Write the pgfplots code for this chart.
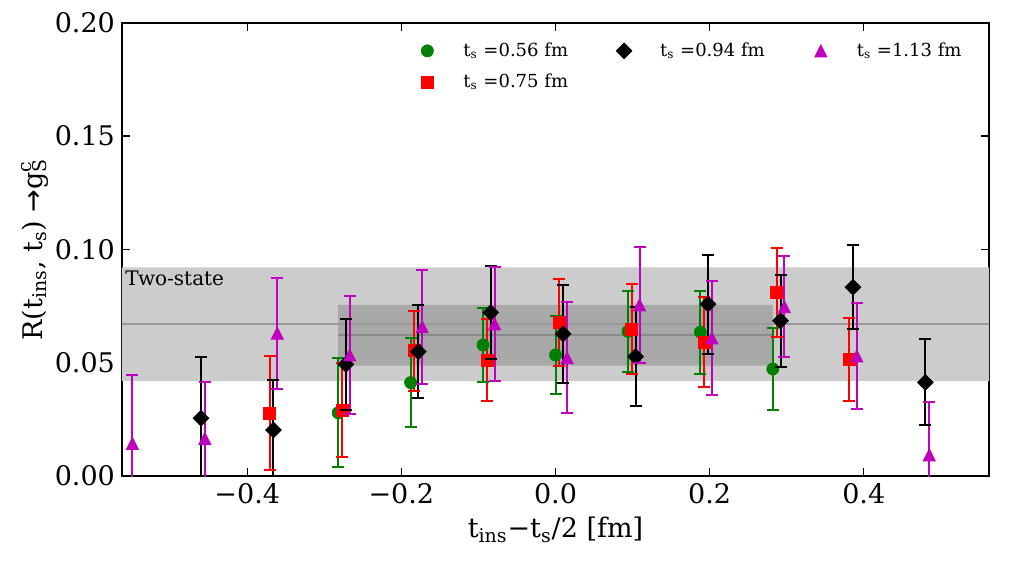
\documentclass[border=0pt]{standalone}
\usepackage{pgfplots}
\pgfplotsset{compat=1.18}
\usetikzlibrary{plotmarks}
\usepackage{fontspec}
\setmainfont{DejaVu Serif}
\newfontfamily\dvs{DejaVu Sans}
\definecolor{ggreen}{RGB}{0,128,0}
\definecolor{mmag}{RGB}{191,0,191}
\definecolor{bandlight}{RGB}{204,204,204}
\definecolor{banddark}{RGB}{168,168,168}
\definecolor{linelight}{RGB}{153,153,153}
\definecolor{linedark}{RGB}{138,138,138}
\pgfdeclareplotmark{mpldiamond}{%
  \pgfpathmoveto{\pgfqpoint{0pt}{\pgfplotmarksize}}%
  \pgfpathlineto{\pgfqpoint{\pgfplotmarksize}{0pt}}%
  \pgfpathlineto{\pgfqpoint{0pt}{-\pgfplotmarksize}}%
  \pgfpathlineto{\pgfqpoint{-\pgfplotmarksize}{0pt}}%
  \pgfpathclose\pgfusepathqfillstroke}
\pgfdeclareplotmark{mpltri}{%
  \pgfpathmoveto{\pgfqpoint{0pt}{\pgfplotmarksize}}%
  \pgfpathlineto{\pgfqpoint{\pgfplotmarksize}{-\pgfplotmarksize}}%
  \pgfpathlineto{\pgfqpoint{-\pgfplotmarksize}{-\pgfplotmarksize}}%
  \pgfpathclose\pgfusepathqfillstroke}
\pgfdeclareplotmark{capbar}{%
  \pgfpathmoveto{\pgfqpoint{-\pgfplotmarksize}{0pt}}%
  \pgfpathlineto{\pgfqpoint{\pgfplotmarksize}{0pt}}%
  \pgfusepathqstroke}
\begin{document}
\begin{tikzpicture}
\useasboundingbox (-61pt,-49pt) rectangle (449pt,238pt);
\begin{axis}[
  scale only axis, width=433.5pt, height=226.65pt,
  xmin=-0.5625, xmax=0.5625, ymin=0, ymax=0.2,
  xtick={-0.4,-0.2,0,0.2,0.4}, xticklabels={−0.4,−0.2,0.0,0.2,0.4},
  ytick={0,0.05,0.1,0.15,0.2}, yticklabels={0.00,0.05,0.10,0.15,0.20},
  tick align=inside, major tick length=4pt, minor tick num=0,
  tick style={black, line width=0.6pt},
  axis line style={line width=1pt},
  ticklabel style={font=\fontsize{13.5}{16}\selectfont},
  label style={font=\fontsize{13.5}{16}\selectfont},
  xlabel={t\textsubscript{ins}−t\textsubscript{s}/2 [fm]},
  ylabel={R(t\textsubscript{ins}, t\textsubscript{s}) {\dvs →}g\rlap{\textsuperscript{c}}\textsubscript{S}},
  ylabel shift=-3.5pt,
  mylegend/.style={legend image code/.code={\path[draw=none,fill=none] (-7pt,-5pt) rectangle (7pt,5pt); \draw[##1] plot coordinates {(0pt,0pt)};}},
  errbar/.style={line width=1pt, forget plot, unbounded coords=jump, mark=capbar, mark size=3pt, mark options={line width=1pt}},
  legend cell align=left,
  legend style={draw=none, fill=none, at={(0.3356,0.9616)}, anchor=north west, inner sep=0pt,
    legend columns=3, font=\fontsize{9}{11}\selectfont, row sep=5.5pt,
    nodes={inner xsep=0pt, inner ysep=1pt},
    /tikz/every odd column/.append style={column sep=11pt},
    /tikz/every even column/.append style={column sep=21pt}},
]
% two-state band (full width) and its central value
\addplot[fill=bandlight, draw=none, forget plot] coordinates {(-0.6,0.0419) (0.6,0.0419) (0.6,0.0921) (-0.6,0.0921) (-0.6,0.0419)};
\addplot[fill=banddark, draw=none, forget plot] coordinates {(-0.282,0.0487) (0.282,0.0487) (0.282,0.0755) (-0.282,0.0755) (-0.282,0.0487)};
\addplot[linelight, line width=1pt, forget plot] coordinates {(-0.6,0.0669) (0.6,0.0669)};
\addplot[linedark, line width=1pt, forget plot] coordinates {(-0.282,0.0622) (0.282,0.0622)};
\node[anchor=north west, inner sep=1.5pt, font=\fontsize{10}{12}\selectfont] at (axis cs:-0.5625,0.0921) {Two-state};
% ---------- t_s = 0.56 fm : error bars (low, high) then central values
\addplot[ggreen, errbar] coordinates {
(-0.282,0.0039) (-0.282,0.0519) (nan,nan)
(-0.188,0.0217) (-0.188,0.0607) (nan,nan)
(-0.094,0.0414) (-0.094,0.0742) (nan,nan)
(0.000,0.0364) (0.000,0.0704) (nan,nan)
(0.094,0.0458) (0.094,0.0818) (nan,nan)
(0.188,0.0452) (0.188,0.0818) (nan,nan)
(0.282,0.0292) (0.282,0.0652)
};
\addplot[only marks, ggreen, mark=*, mark size=3.0pt, forget plot] coordinates {
(-0.282,0.0279) (-0.188,0.0412) (-0.094,0.0578) (0.000,0.0534)
(0.094,0.0638) (0.188,0.0635) (0.282,0.0472)
};
% ---------- t_s = 0.75 fm
\addplot[red, errbar] coordinates {
(-0.371,0.0026) (-0.371,0.0528) (nan,nan)
(-0.277,0.0084) (-0.277,0.0498) (nan,nan)
(-0.183,0.0375) (-0.183,0.0729) (nan,nan)
(-0.089,0.0332) (-0.089,0.0692) (nan,nan)
(0.005,0.0487) (0.005,0.0867) (nan,nan)
(0.099,0.0449) (0.099,0.0845) (nan,nan)
(0.193,0.0393) (0.193,0.0789) (nan,nan)
(0.287,0.0612) (0.287,0.1006) (nan,nan)
(0.381,0.0332) (0.381,0.0698)
};
\addplot[only marks, red, mark=square*, mark size=3.0pt, forget plot] coordinates {
(-0.371,0.0277) (-0.277,0.0291) (-0.183,0.0552) (-0.089,0.0512) (0.005,0.0677)
(0.099,0.0647) (0.193,0.0591) (0.287,0.0809) (0.381,0.0515)
};
% ---------- t_s = 0.94 fm
\addplot[black, errbar] coordinates {
(-0.460,-0.0015) (-0.460,0.0525) (nan,nan)
(-0.366,-0.0017) (-0.366,0.0423) (nan,nan)
(-0.272,0.0293) (-0.272,0.0693) (nan,nan)
(-0.178,0.0342) (-0.178,0.0756) (nan,nan)
(-0.084,0.0517) (-0.084,0.0925) (nan,nan)
(0.010,0.0411) (0.010,0.0843) (nan,nan)
(0.104,0.0308) (0.104,0.0746) (nan,nan)
(0.198,0.0540) (0.198,0.0976) (nan,nan)
(0.292,0.0483) (0.292,0.0887) (nan,nan)
(0.386,0.0647) (0.386,0.1019) (nan,nan)
(0.480,0.0223) (0.480,0.0603)
};
\addplot[only marks, black, mark=mpldiamond, mark size=3.9pt, forget plot] coordinates {
(-0.460,0.0255) (-0.366,0.0203) (-0.272,0.0493) (-0.178,0.0549) (-0.084,0.0721)
(0.010,0.0627) (0.104,0.0527) (0.198,0.0758) (0.292,0.0685) (0.386,0.0833) (0.480,0.0413)
};
% ---------- t_s = 1.13 fm
\addplot[mmag, errbar] coordinates {
(-0.549,-0.0156) (-0.549,0.0444) (nan,nan)
(-0.455,-0.0084) (-0.455,0.0416) (nan,nan)
(-0.361,0.0385) (-0.361,0.0875) (nan,nan)
(-0.267,0.0274) (-0.267,0.0794) (nan,nan)
(-0.173,0.0407) (-0.173,0.0911) (nan,nan)
(-0.079,0.0421) (-0.079,0.0921) (nan,nan)
(0.015,0.0277) (0.015,0.0767) (nan,nan)
(0.109,0.0500) (0.109,0.1010) (nan,nan)
(0.203,0.0357) (0.203,0.0861) (nan,nan)
(0.297,0.0525) (0.297,0.0969) (nan,nan)
(0.391,0.0297) (0.391,0.0763) (nan,nan)
(0.485,-0.0142) (0.485,0.0328)
};
\addplot[only marks, mmag, mark=mpltri, mark size=3.0pt, forget plot] coordinates {
(-0.549,0.0144) (-0.455,0.0166) (-0.361,0.0630) (-0.267,0.0534) (-0.173,0.0659) (-0.079,0.0671)
(0.015,0.0522) (0.109,0.0755) (0.203,0.0609) (0.297,0.0747) (0.391,0.0530) (0.485,0.0093)
};
\addlegendimage{mylegend, ggreen, mark=*, mark size=3.0pt}
\addlegendentry{t\textsubscript{s} =0.56 fm}
\addlegendimage{mylegend, black, mark=mpldiamond, mark size=3.9pt}
\addlegendentry{t\textsubscript{s} =0.94 fm}
\addlegendimage{mylegend, mmag, mark=mpltri, mark size=3.0pt}
\addlegendentry{t\textsubscript{s} =1.13 fm}
\addlegendimage{mylegend, red, mark=square*, mark size=3.0pt}
\addlegendentry{t\textsubscript{s} =0.75 fm}
\end{axis}
\end{tikzpicture}
\end{document}
